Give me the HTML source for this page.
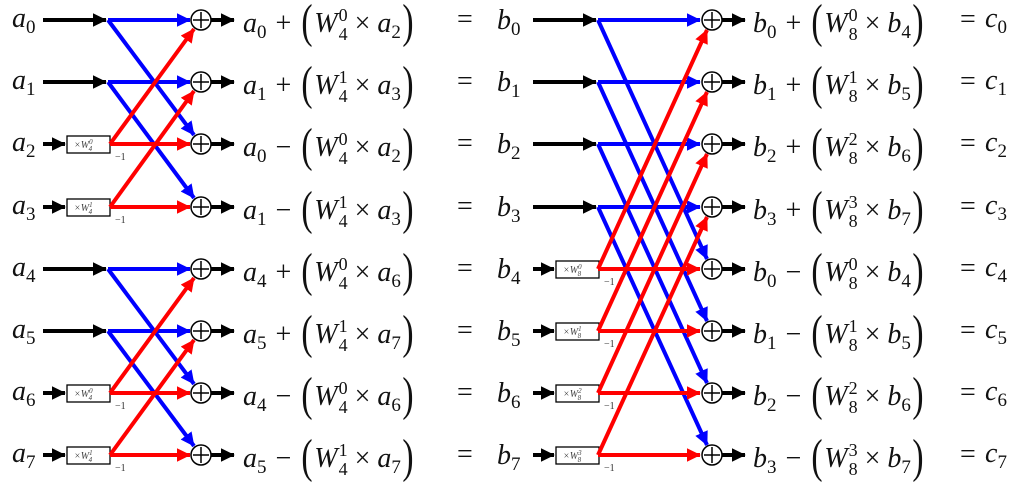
<!DOCTYPE html>
<html><head><meta charset="utf-8"><style>
body{margin:0;background:#fff;width:1032px;height:486px;overflow:hidden;position:relative;font-family:"Liberation Serif","DejaVu Serif",serif;}
svg{position:absolute;left:0;top:0}
.t{position:absolute;font-size:28px;white-space:nowrap;line-height:1;color:#111}
.t i{font-style:italic}
.s{font-size:19px;position:relative;top:6px}
.p{font-size:48px;font-weight:100;position:relative;top:5px;display:inline-block;transform:scaleX(.7);margin:0 -1px}
.ss{display:inline-block;vertical-align:middle;font-size:18px;line-height:19px;text-align:left;position:relative;top:-1px;margin-left:1px}
.op{margin:0 9px}
.x{margin:0 7px}
</style></head><body>
<svg width="1032" height="486" id="g"></svg>
<script>
var Y=[20,82,144,207,269,331,393,455];
var s='<defs>';
[['k','#000'],['b','#00f'],['r','#f00']].forEach(function(c){s+='<marker id="m'+c[0]+'" markerWidth="4" markerHeight="4" refX="3.3" refY="2" orient="auto" markerUnits="strokeWidth"><path d="M0,0.3L3.5,2L0,3.7z" fill="'+c[1]+'"/></marker>';});
s+='</defs>';
function L(x1,y1,x2,y2,c,w){var m=c=='#000'?'k':c=='#00f'?'b':'r';s+='<line x1="'+x1+'" y1="'+y1+'" x2="'+x2+'" y2="'+y2+'" stroke="'+c+'" stroke-width="'+(w||4)+'" marker-end="url(#m'+m+')"/>';}
function box(x,y,lab){s+='<rect x="'+x+'" y="'+(y-8)+'" width="'+43+'" height="17" fill="#fff" stroke="#000" stroke-width="1.3"/><text x="'+(x+7)+'" y="'+(y+4)+'" font-size="10" font-family="Liberation Serif" font-style="italic" fill="#444">×W<tspan font-size="7" dy="-4">'+lab[1]+'</tspan><tspan font-size="7" dx="-4" dy="7">'+lab[0]+'</tspan></text>';
 s+='<text x="'+(x+48)+'" y="'+(y+16)+'" font-size="10" font-family="Liberation Serif" fill="#333">−1</text>';}
[0,4].forEach(function(k){
 for(var j=0;j<4;j++){var i=k+j,y=Y[i];
  if(j<2){L(43,y,106,y,'#000');L(108,y,190,y,'#00f');L(108,y,194,Y[i+2]-9,'#00f');}
  else{L(43,y,65,y,'#000');box(67,y,['4',String(j-2)]);L(110,y,190,y,'#f00');L(110,y,194,Y[i-2]+9,'#f00');}
 }});
for(var i=0;i<8;i++){var y=Y[i];L(211,y,234,y,'#000');s+='<circle cx="201" cy="'+y+'" r="10" fill="#fff" stroke="#000" stroke-width="1.5"/><path d="M193,'+y+'H209M201,'+(y-8)+'V'+(y+8)+'" stroke="#000" stroke-width="1.5"/>';}
for(var i=0;i<8;i++){var y=Y[i];
 if(i<4){L(533,y,596,y,'#000');L(598,y,700,y,'#00f');L(598,y,707,Y[i+4]-10,'#00f');}
 else{L(533,y,554,y,'#000');box(556,y,['8',String(i-4)]);L(598,y,700,y,'#f00');L(598,y,707,Y[i-4]+10,'#f00');}
}
for(var i=0;i<8;i++){var y=Y[i];L(722,y,745,y,'#000');s+='<circle cx="712" cy="'+y+'" r="10" fill="#fff" stroke="#000" stroke-width="1.5"/><path d="M704,'+y+'H720M712,'+(y-8)+'V'+(y+8)+'" stroke="#000" stroke-width="1.5"/>';}
document.getElementById('g').innerHTML=s;
</script>
<div class="t" style="left:12px;top:5px"><i>a</i><span class="s">0</span></div>
<div class="t" style="left:12px;top:67px"><i>a</i><span class="s">1</span></div>
<div class="t" style="left:12px;top:129px"><i>a</i><span class="s">2</span></div>
<div class="t" style="left:12px;top:192px"><i>a</i><span class="s">3</span></div>
<div class="t" style="left:12px;top:254px"><i>a</i><span class="s">4</span></div>
<div class="t" style="left:12px;top:316px"><i>a</i><span class="s">5</span></div>
<div class="t" style="left:12px;top:378px"><i>a</i><span class="s">6</span></div>
<div class="t" style="left:12px;top:440px"><i>a</i><span class="s">7</span></div>
<div class="t" style="left:243px;top:-7px"><i>a</i><span class="s">0</span><span class="op">+</span><span class="p">(</span><i>W</i><span class="ss">0<br>4</span><span class="x">×</span><i>a</i><span class="s">2</span><span class="p">)</span></div>
<div class="t" style="left:243px;top:55px"><i>a</i><span class="s">1</span><span class="op">+</span><span class="p">(</span><i>W</i><span class="ss">1<br>4</span><span class="x">×</span><i>a</i><span class="s">3</span><span class="p">)</span></div>
<div class="t" style="left:243px;top:117px"><i>a</i><span class="s">0</span><span class="op">−</span><span class="p">(</span><i>W</i><span class="ss">0<br>4</span><span class="x">×</span><i>a</i><span class="s">2</span><span class="p">)</span></div>
<div class="t" style="left:243px;top:180px"><i>a</i><span class="s">1</span><span class="op">−</span><span class="p">(</span><i>W</i><span class="ss">1<br>4</span><span class="x">×</span><i>a</i><span class="s">3</span><span class="p">)</span></div>
<div class="t" style="left:243px;top:242px"><i>a</i><span class="s">4</span><span class="op">+</span><span class="p">(</span><i>W</i><span class="ss">0<br>4</span><span class="x">×</span><i>a</i><span class="s">6</span><span class="p">)</span></div>
<div class="t" style="left:243px;top:304px"><i>a</i><span class="s">5</span><span class="op">+</span><span class="p">(</span><i>W</i><span class="ss">1<br>4</span><span class="x">×</span><i>a</i><span class="s">7</span><span class="p">)</span></div>
<div class="t" style="left:243px;top:366px"><i>a</i><span class="s">4</span><span class="op">−</span><span class="p">(</span><i>W</i><span class="ss">0<br>4</span><span class="x">×</span><i>a</i><span class="s">6</span><span class="p">)</span></div>
<div class="t" style="left:243px;top:428px"><i>a</i><span class="s">5</span><span class="op">−</span><span class="p">(</span><i>W</i><span class="ss">1<br>4</span><span class="x">×</span><i>a</i><span class="s">7</span><span class="p">)</span></div>
<div class="t" style="left:457px;top:6px">=</div><div class="t" style="left:497px;top:7px"><i>b</i><span class="s">0</span></div>
<div class="t" style="left:457px;top:68px">=</div><div class="t" style="left:497px;top:69px"><i>b</i><span class="s">1</span></div>
<div class="t" style="left:457px;top:130px">=</div><div class="t" style="left:497px;top:131px"><i>b</i><span class="s">2</span></div>
<div class="t" style="left:457px;top:193px">=</div><div class="t" style="left:497px;top:194px"><i>b</i><span class="s">3</span></div>
<div class="t" style="left:457px;top:255px">=</div><div class="t" style="left:497px;top:256px"><i>b</i><span class="s">4</span></div>
<div class="t" style="left:457px;top:317px">=</div><div class="t" style="left:497px;top:318px"><i>b</i><span class="s">5</span></div>
<div class="t" style="left:457px;top:379px">=</div><div class="t" style="left:497px;top:380px"><i>b</i><span class="s">6</span></div>
<div class="t" style="left:457px;top:441px">=</div><div class="t" style="left:497px;top:442px"><i>b</i><span class="s">7</span></div>
<div class="t" style="left:753px;top:-7px"><i>b</i><span class="s">0</span><span class="op">+</span><span class="p">(</span><i>W</i><span class="ss">0<br>8</span><span class="x">×</span><i>b</i><span class="s">4</span><span class="p">)</span></div>
<div class="t" style="left:753px;top:55px"><i>b</i><span class="s">1</span><span class="op">+</span><span class="p">(</span><i>W</i><span class="ss">1<br>8</span><span class="x">×</span><i>b</i><span class="s">5</span><span class="p">)</span></div>
<div class="t" style="left:753px;top:117px"><i>b</i><span class="s">2</span><span class="op">+</span><span class="p">(</span><i>W</i><span class="ss">2<br>8</span><span class="x">×</span><i>b</i><span class="s">6</span><span class="p">)</span></div>
<div class="t" style="left:753px;top:180px"><i>b</i><span class="s">3</span><span class="op">+</span><span class="p">(</span><i>W</i><span class="ss">3<br>8</span><span class="x">×</span><i>b</i><span class="s">7</span><span class="p">)</span></div>
<div class="t" style="left:753px;top:242px"><i>b</i><span class="s">0</span><span class="op">−</span><span class="p">(</span><i>W</i><span class="ss">0<br>8</span><span class="x">×</span><i>b</i><span class="s">4</span><span class="p">)</span></div>
<div class="t" style="left:753px;top:304px"><i>b</i><span class="s">1</span><span class="op">−</span><span class="p">(</span><i>W</i><span class="ss">1<br>8</span><span class="x">×</span><i>b</i><span class="s">5</span><span class="p">)</span></div>
<div class="t" style="left:753px;top:366px"><i>b</i><span class="s">2</span><span class="op">−</span><span class="p">(</span><i>W</i><span class="ss">2<br>8</span><span class="x">×</span><i>b</i><span class="s">6</span><span class="p">)</span></div>
<div class="t" style="left:753px;top:428px"><i>b</i><span class="s">3</span><span class="op">−</span><span class="p">(</span><i>W</i><span class="ss">3<br>8</span><span class="x">×</span><i>b</i><span class="s">7</span><span class="p">)</span></div>
<div class="t" style="left:960px;top:6px">=</div><div class="t" style="left:985px;top:5px"><i>c</i><span class="s">0</span></div>
<div class="t" style="left:960px;top:68px">=</div><div class="t" style="left:985px;top:67px"><i>c</i><span class="s">1</span></div>
<div class="t" style="left:960px;top:130px">=</div><div class="t" style="left:985px;top:129px"><i>c</i><span class="s">2</span></div>
<div class="t" style="left:960px;top:193px">=</div><div class="t" style="left:985px;top:192px"><i>c</i><span class="s">3</span></div>
<div class="t" style="left:960px;top:255px">=</div><div class="t" style="left:985px;top:254px"><i>c</i><span class="s">4</span></div>
<div class="t" style="left:960px;top:317px">=</div><div class="t" style="left:985px;top:316px"><i>c</i><span class="s">5</span></div>
<div class="t" style="left:960px;top:379px">=</div><div class="t" style="left:985px;top:378px"><i>c</i><span class="s">6</span></div>
<div class="t" style="left:960px;top:441px">=</div><div class="t" style="left:985px;top:440px"><i>c</i><span class="s">7</span></div>
</body></html>
